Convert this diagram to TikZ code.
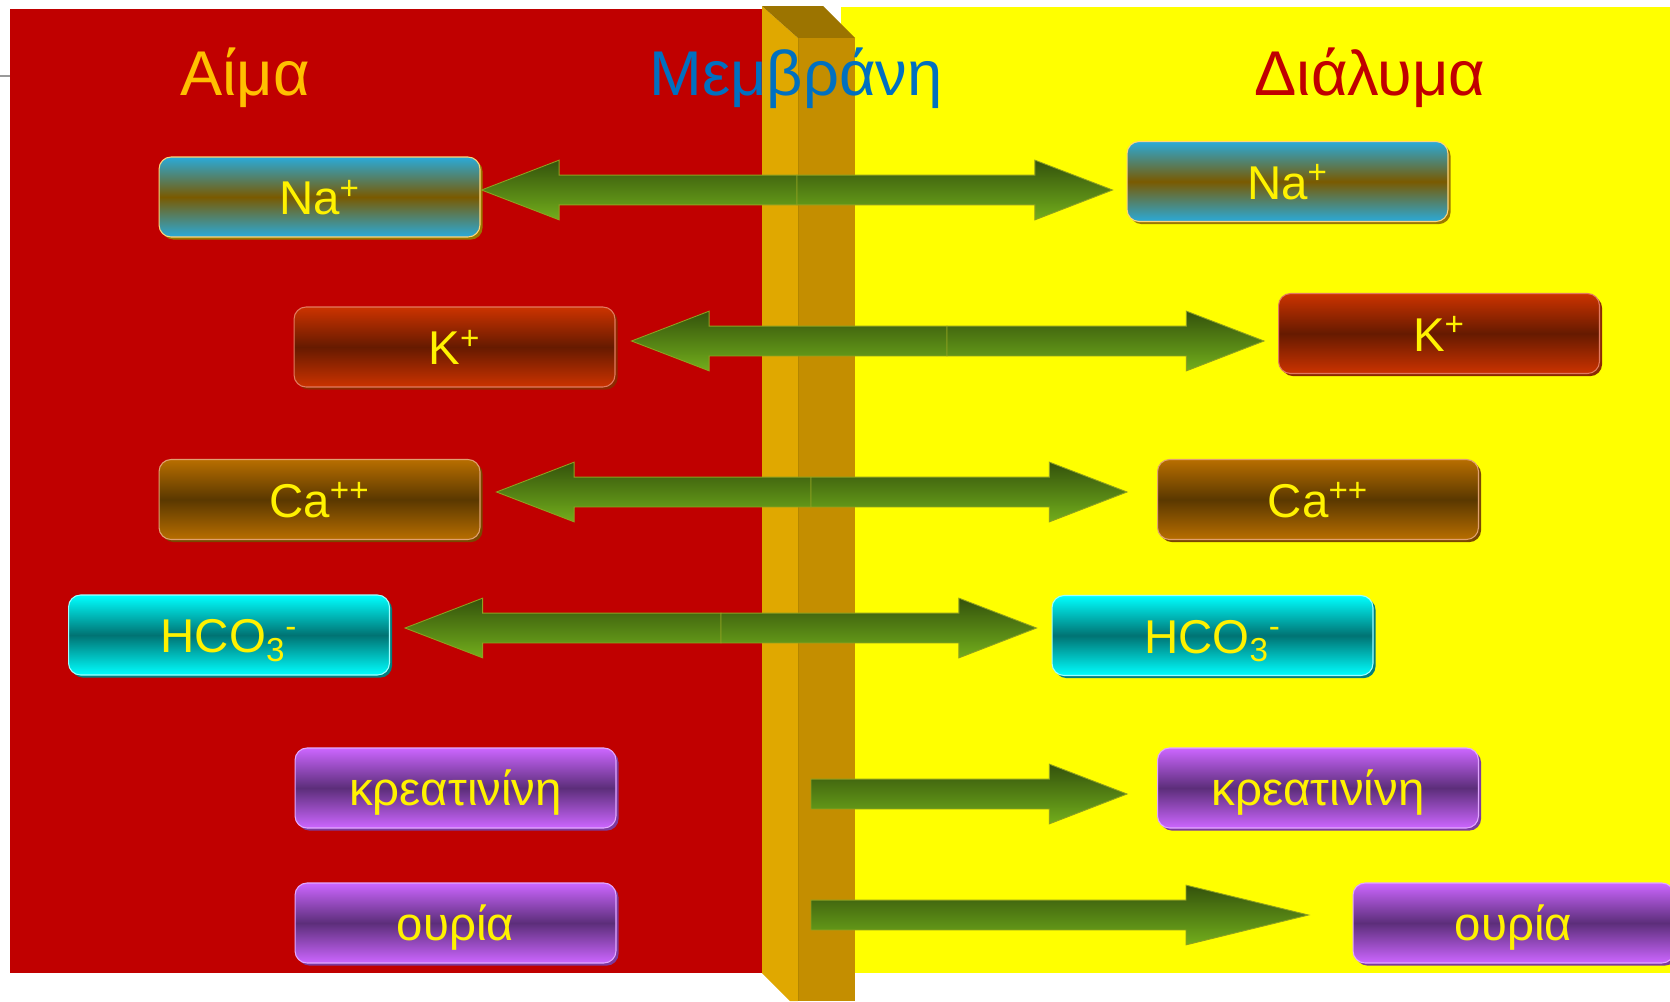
\documentclass[tikz,border=0pt]{standalone}
\usepackage{fontspec}
\setmainfont{Liberation Sans}
\usepackage{tikz}
\usetikzlibrary{calc,shadows}
\definecolor{blood}{HTML}{C00000}
\definecolor{dialysate}{HTML}{FFFF00}
\definecolor{memside}{HTML}{E0A800}
\definecolor{memfront}{HTML}{C48E00}
\definecolor{memtop}{HTML}{9C7400}
\definecolor{titleblood}{HTML}{FFC000}
\definecolor{titlemem}{HTML}{0070C0}
\definecolor{titledia}{HTML}{C00000}
\definecolor{nalight}{HTML}{2AAAD9}
\definecolor{nadark}{HTML}{7A5A00}
\definecolor{naedge}{HTML}{FFD47A}
\definecolor{nashade}{HTML}{9A7800}
\definecolor{klight}{HTML}{CC3300}
\definecolor{kdark}{HTML}{661A00}
\definecolor{kedge}{HTML}{E27A60}
\definecolor{kshade}{HTML}{8C2A00}
\definecolor{calight}{HTML}{B86E00}
\definecolor{cadark}{HTML}{5A3800}
\definecolor{caedge}{HTML}{E0A070}
\definecolor{cashade}{HTML}{7A4800}
\definecolor{hcolight}{HTML}{00FFFF}
\definecolor{hcodark}{HTML}{007373}
\definecolor{hcoedge}{HTML}{A0FFFF}
\definecolor{hcoshade}{HTML}{008080}
\definecolor{purplelight}{HTML}{CC66FF}
\definecolor{purpledark}{HTML}{5C2E7A}
\definecolor{purpleedge}{HTML}{E2A8FF}
\definecolor{purpleshade}{HTML}{7C3A9E}
\definecolor{arrowtop}{HTML}{34520C}
\definecolor{arrowbot}{HTML}{72AE1C}
\definecolor{arrowedge}{HTML}{8FA020}
\tikzset{
ion/.style = {rectangle, rounded corners=0.24cm, minimum width=6.42cm, minimum height=1.6cm, inner sep=0pt, text=yellow, font=\fontsize{27}{32}\selectfont, text height=24pt, text depth=3.6pt, line width=0.6pt},
ionbox/.style = {ion, draw=#1edge, top color=#1light, bottom color=#1light, middle color=#1dark, general shadow={fill=#1shade, shadow xshift=1.5pt, shadow yshift=-1.5pt}},
title/.style = {anchor=base, font=\fontsize{36}{43}\selectfont},
arrowshade/.style = {top color=arrowtop, bottom color=arrowbot, draw=arrowedge, line width=0.5pt}
}
\newcommand\halfarrow[3][44.2pt]{%
  \shade[arrowshade] let \p1=(#2), \p2=(#3), \n1={ifthenelse(\x2>\x1,1,-1)} in
    (\x1,\y1+8.5pt) -- ({\x2-(\n1)*#1},\y1+8.5pt) -- ({\x2-(\n1)*#1},\y1+17pt) -- (\x2,\y1)
    -- ({\x2-(\n1)*#1},\y1-17pt) -- ({\x2-(\n1)*#1},\y1-8.5pt) -- (\x1,\y1-8.5pt) -- cycle;}

\begin{document}
\begin{tikzpicture}[x=0.02cm, y=-0.02cm]
  \useasboundingbox (0,0) rectangle (1670,1001);
  \clip (0,0) rectangle (1670,1001);

  \fill [blood]     (10,9)  rectangle (762,973);
  \fill [dialysate] (841,7) rectangle (1670,973);
  \draw [gray!80, line width=1pt] (0,76) -- (10,76);

  \fill [memside]  (762,6) -- (798,38) -- (798,1001) -- (790,1001) -- (762,973) -- cycle;
  \fill [memtop]   (762,6) -- (823,6) -- (855,38) -- (798,38) -- cycle;
  \fill [memfront] (798,38) rectangle (855,1001);
  \draw [memside!80!black, line width=0.4pt] (798,38) -- (798,1001);

  \node [title, text=titleblood] (blood)    at (245,95)  {Αίμα};
  \node [title, text=titlemem]   (membrane) at (796,95)  {Μεμβράνη};
  \node [title, text=titledia]   (dialysis) at (1370,95) {Διάλυμα};

  \node [ionbox=na]     (naL)  at (319.5,197)  {Na\textsuperscript{+}};
  \node [ionbox=na]     (naR)  at (1287.5,181.5) {Na\textsuperscript{+}};
  \node [ionbox=k]      (kL)   at (454.5,347)  {K\textsuperscript{+}};
  \node [ionbox=k]      (kR)   at (1439,333.5) {K\textsuperscript{+}};
  \node [ionbox=ca]     (caL)  at (319.5,499.5) {Ca\textsuperscript{++}};
  \node [ionbox=ca]     (caR)  at (1318,499.5) {Ca\textsuperscript{++}};
  \node [ionbox=hco]    (hcoL) at (229,635)    {HCO\textsubscript{3}\textsuperscript{-}};
  \node [ionbox=hco]    (hcoR) at (1212.5,635.5) {HCO\textsubscript{3}\textsuperscript{-}};
  \node [ionbox=purple] (krL)  at (455.5,788)  {κρεατινίνη};
  \node [ionbox=purple] (krR)  at (1318,788)   {κρεατινίνη};
  \node [ionbox=purple] (urL)  at (455.5,923)  {ουρία};
  \node [ionbox=purple] (urR)  at (1513.5,923) {ουρία};

  \coordinate (naMid)  at (797,190);
  \coordinate (kMid)   at (947,341);
  \coordinate (caMid)  at (811,492);
  \coordinate (hcoMid) at (721,628);
  \coordinate (krMid)  at (811,794);
  \coordinate (urMid)  at (811,915);

  \coordinate (naTipL)  at ($(naL.east |- naMid)+(1,0)$);
  \coordinate (naTipR)  at ($(naR.west |- naMid)+(-14,0)$);
  \coordinate (kTipL)   at ($(kL.east |- kMid)+(16,0)$);
  \coordinate (kTipR)   at ($(kR.west |- kMid)+(-14,0)$);
  \coordinate (caTipL)  at ($(caL.east |- caMid)+(16,0)$);
  \coordinate (caTipR)  at ($(caR.west |- caMid)+(-30,0)$);
  \coordinate (hcoTipL) at ($(hcoL.east |- hcoMid)+(15,0)$);
  \coordinate (hcoTipR) at ($(hcoR.west |- hcoMid)+(-15,0)$);
  \coordinate (krTipR)  at ($(krR.west |- krMid)+(-30,0)$);
  \coordinate (urTipR)  at ($(urR.west |- urMid)+(-44,0)$);

  \halfarrow{naMid}{naTipL}   \halfarrow{naMid}{naTipR}
  \halfarrow{kMid}{kTipL}     \halfarrow{kMid}{kTipR}
  \halfarrow{caMid}{caTipL}   \halfarrow{caMid}{caTipR}
  \halfarrow{hcoMid}{hcoTipL} \halfarrow{hcoMid}{hcoTipR}
  \halfarrow{krMid}{krTipR}
  \halfarrow[69.7pt]{urMid}{urTipR}
\end{tikzpicture}
\end{document}
